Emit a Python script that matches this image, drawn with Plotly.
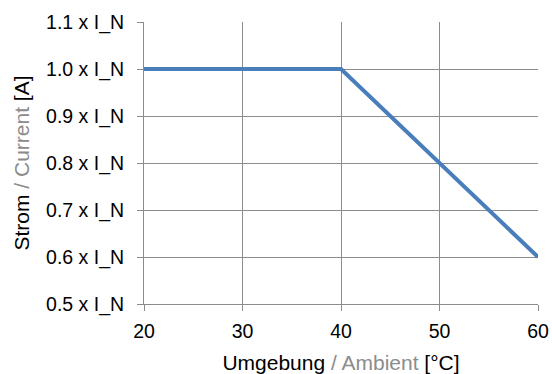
import plotly.graph_objects as go

temps = [20, 40, 60]
current = [1.0, 1.0, 0.6]
y_ticks = [0.5, 0.6, 0.7, 0.8, 0.9, 1.0, 1.1]
y_labels = ["0.5 x I_N", "0.6 x I_N", "0.7 x I_N", "0.8 x I_N", "0.9 x I_N", "1.0 x I_N", "1.1 x I_N"]
x_ticks = [20, 30, 40, 50, 60]

fig = go.Figure()
fig.add_trace(go.Scatter(x=temps, y=current, mode="lines",
                         line=dict(color="#4a7ebb", width=4), showlegend=False))

tick_font = dict(family="Liberation Sans", size=19.5, color="#000000")
title_font = dict(family="Liberation Sans", size=21, color="#000000")
grid = "#8c8c8c"
fig.update_layout(
    width=552, height=374,
    margin=dict(l=144, r=14, t=22, b=70),
    paper_bgcolor="white", plot_bgcolor="white",
    font=tick_font,
    xaxis=dict(range=[20, 60], tickvals=x_ticks, showgrid=True, gridcolor=grid, gridwidth=1,
               showline=True, linecolor=grid, linewidth=1, ticks="outside", ticklen=6,
               tickcolor=grid, zeroline=False, mirror=False, ticklabelstandoff=4,
               tickfont=tick_font, automargin=False,
               title=dict(text="Umgebung<span style='color:#8c8c8c'> / Ambient</span> [°C]",
                          standoff=14, font=title_font)),
    yaxis=dict(range=[0.5, 1.1], tickvals=y_ticks, ticktext=y_labels, showgrid=True,
               gridcolor=grid, gridwidth=1, showline=True, linecolor=grid, linewidth=1,
               ticks="outside", ticklen=6, tickcolor=grid, zeroline=False, ticklabelstandoff=9,
               tickfont=tick_font, automargin=False,
               title=dict(text="Strom<span style='color:#8c8c8c'> / Current</span> [A]",
                          standoff=10, font=title_font)),
)
fig.write_html("out.html")
